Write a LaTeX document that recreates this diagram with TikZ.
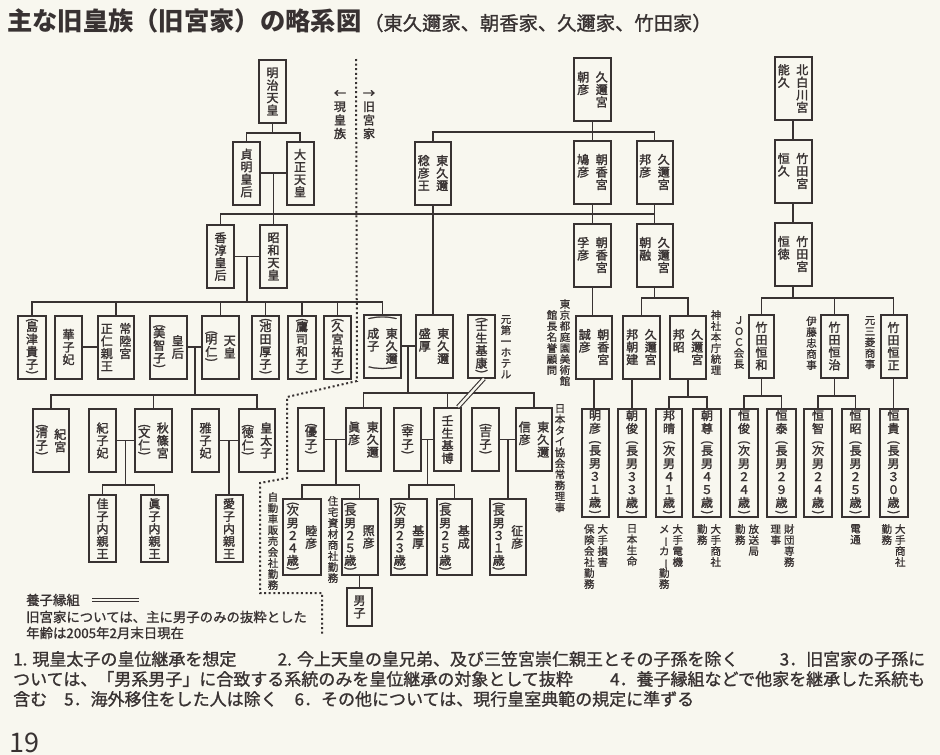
\documentclass[tikz,border=0pt]{standalone}
\usepackage{fontspec}
\usepackage{graphicx}
\setmainfont{Noto Sans CJK JP}
\newfontfamily\inkfam[FakeBold=2]{Noto Sans CJK JP}
\newfontfamily\notefam[FakeBold=1.2]{Noto Sans CJK JP}
\definecolor{paper}{RGB}{248,247,239}
\definecolor{ink}{RGB}{56,50,50}

% vertical text: one character per line
\newlength\tatepitch \setlength\tatepitch{12.5pt}
\newlength\tateparen \setlength\tateparen{7.5pt}
\newlength\tatewidth \setlength\tatewidth{13pt}
\newlength\tategap \setlength\tategap{5.5pt}
\makeatletter
\newcommand\PO{\rotatebox[origin=c]{-90}{(}}
\newcommand\PC{\rotatebox[origin=c]{-90}{)}}
\def\ts@po{\PO}
\def\ts@pc{\PC}
\newcommand\tatechar[1]{\hbox to\tatewidth{\hss#1\hss}}
\newcommand\tatestack[1]{\baselineskip=\tatepitch\lineskip=0pt\lineskiplimit=-100pt
  \@tfor\ts@c:=#1\do{%
    \ifx\ts@c\ts@po
      \tatechar{\PO}\baselineskip=\tateparen
    \else\ifx\ts@c\ts@pc
      \baselineskip=\tateparen\tatechar{\PC}\baselineskip=\tatepitch
    \else
      \tatechar{\ts@c}\baselineskip=\tatepitch
    \fi\fi}}
\makeatother
\newcommand\vt[1]{\vtop{\tatestack{#1}}}
\newcommand\vc[1]{$\vcenter{\tatestack{#1}}$}
\newcommand\vtt[2]{\vt{#1}\kern\tategap\vt{#2}}
\newcommand\vcc[2]{\vc{#1}\kern\tategap\vc{#2}}
\newcommand\tatebig[1]{\rotatebox[origin=c]{-90}{\scalebox{1}[2.3]{#1}}}
\newcommand\tatewrap[1]{\vbox{\offinterlineskip\hbox to 33pt{\hss\tatebig{(}\hss}\kern2pt
  \hbox to 33pt{\hss#1\hss}\kern2pt\hbox to 33pt{\hss\tatebig{)}\hss}}}
\newcommand\vbar{\rotatebox[origin=c]{-90}{ー}}

\newcommand\boxfont{\inkfam\fontsize{12}{12.5}\selectfont}
\newcommand\longfont{\inkfam\fontsize{12}{13}\selectfont\setlength\tatepitch{13pt}\setlength\tateparen{9pt}}
\newcommand\notefont{\notefam\fontsize{10.5}{11}\selectfont\setlength\tatepitch{11pt}\setlength\tatewidth{11pt}\setlength\tategap{2.5pt}}
\newcommand\titlefont{\fontsize{25.3}{27}\selectfont\bfseries}
\newcommand\subfont{\notefam\fontsize{19.3}{21}\selectfont}
\newcommand\legendfont{\notefam\fontsize{13.4}{14}\selectfont}
\newcommand\footfont{\notefam\fontsize{17}{18}\selectfont}
\newcommand\fngap{\hskip 1em plus 1fill\relax}

\tikzset{
  box/.style={draw=ink, line width=2pt, fill=paper, text=ink, inner sep=0pt, minimum width=#1, font=\boxfont},
  box/.default=27pt,
  sbox/.style={box, minimum height=63pt},
  dbox/.style={box=37pt, minimum height=63pt},
  longbox/.style={box, minimum height=108pt, font=\longfont},
  link/.style={draw=ink, line width=1.6pt},
  adopt/.style={draw=ink, line width=1.1pt, double=paper, double distance=2.4pt},
  famline/.style={draw=ink, line width=2pt, dash pattern=on 2pt off 2.6pt},
  note/.style={inner sep=0pt, text=ink, font=\notefont, anchor=north},
}

\begin{document}
\begin{tikzpicture}[x=1pt,y=-1pt]
  \fill[paper] (0,0) rectangle (940,755);
  \useasboundingbox (0,0) rectangle (940,755);

  % title
  \node[anchor=west, inner sep=0pt, text=ink, font=\titlefont] (title) at (7,21) {主な旧皇族（旧宮家）の略系図};
  \node[anchor=west, inner sep=0pt, text=ink, font=\subfont] (subtitle) at (364,23) {（東久邇家、朝香家、久邇家、竹田家）};

  % first row
  \node[sbox] (meiji) at (272.5,91.5) {\vt{明治天皇}};
  \node[dbox] (asahiko) at (592.5,89.5) {\vtt{朝彦}{久邇宮}};
  \node[dbox] (yoshihisa) at (793,88.5) {\vtt{能久}{北白川宮}};

  % second row
  \node[sbox] (teimei) at (246.5,173) {\vt{貞明皇后}};
  \node[sbox] (taisho) at (300,173) {\vt{大正天皇}};
  \node[dbox, minimum width=36pt] (naruhiko) at (433,173) {\vtt{稔彦王}{東久邇}};
  \node[dbox] (yasuhiko) at (592.5,172) {\vtt{鳩彦}{朝香宮}};
  \node[dbox, minimum width=36pt] (kuniyoshi) at (654.5,172) {\vtt{邦彦}{久邇宮}};
  \node[dbox] (tsunehisa) at (793,171) {\vtt{恒久}{竹田宮}};

  % third row
  \node[sbox] (kojun) at (220.5,256.5) {\vt{香淳皇后}};
  \node[sbox] (showa) at (273.5,256.5) {\vt{昭和天皇}};
  \node[dbox] (takahiko) at (592.5,255) {\vtt{孚彦}{朝香宮}};
  \node[dbox, minimum width=36pt] (asaakira) at (654.5,255) {\vtt{朝融}{久邇宮}};
  \node[dbox] (tsuneyoshi) at (793,254) {\vtt{恒徳}{竹田宮}};

  % fourth row
  \node[sbox, minimum width=28pt] (takako) at (32,347) {\vt{\PO 島津貴子\PC}};
  \node[sbox] (hanako) at (68.5,347) {\vt{華子妃}};
  \node[dbox, minimum width=36pt] (hitachi) at (116,347) {\vtt{正仁親王}{常陸宮}};
  \node[dbox] (michiko) at (168.5,347) {\vcc{\PO 美智子\PC}{皇后}};
  \node[dbox] (akihito) at (220.5,347) {\vcc{\PO 明仁\PC}{天皇}};
  \node[sbox] (atsuko) at (265.5,347) {\vt{\PO 池田厚子\PC}};
  \node[sbox, minimum width=28pt] (kazuko) at (302,347) {\vt{\PO 鷹司和子\PC}};
  \node[sbox] (hisako) at (337.5,347) {\vt{\PO 久宮祐子\PC}};
  \node[dbox] (shigeko) at (382.5,346) {\tatewrap{\vtt{成子}{東久邇}}};
  \node[dbox] (morihiro) at (434,346) {\vtt{盛厚}{東久邇}};
  \node[sbox] (motoyasu) at (481.5,346) {\vt{\PO 壬生基康\PC}};
  \node[dbox, minimum width=36pt] (tomohiko) at (594,347) {\vtt{誠彦}{朝香宮}};
  \node[dbox] (kunitake) at (641.5,347) {\vtt{邦朝建}{久邇宮}};
  \node[dbox, minimum width=36pt] (kuniaki) at (688,347) {\vtt{邦昭}{久邇宮}};
  \node[sbox, minimum width=25pt] (tsunekazu) at (761.5,346) {\vt{竹田恒和}};
  \node[sbox] (tsuneharu) at (834.5,346) {\vt{竹田恒治}};
  \node[sbox, minimum width=26pt] (tsunetada) at (893.5,346) {\vt{竹田恒正}};

  % fifth row
  \node[dbox, minimum width=36pt] (sayako) at (51,440.5) {\vcc{\PO 清子\PC}{紀宮}};
  \node[sbox] (kiko) at (102.5,440.5) {\vt{紀子妃}};
  \node[dbox] (akishino) at (153.5,440.5) {\vcc{\PO 文仁\PC}{秋篠宮}};
  \node[sbox] (masako) at (205.5,440.5) {\vt{雅子妃}};
  \node[dbox, minimum width=36pt] (kotaishi) at (257,440.5) {\vcc{\PO 徳仁\PC}{皇太子}};
  \node[sbox, minimum width=26pt] (yuko) at (311,439.5) {\vt{\PO 優子\PC}};
  \node[dbox, minimum width=35pt] (tomohiko2) at (363.5,439.5) {\vtt{眞彦}{東久邇}};
  \node[sbox] (sachiko) at (407.5,439.5) {\vt{\PO 幸子\PC}};
  \node[sbox] (motohiro) at (447.5,439.5) {\vt{壬生基博}};
  \node[sbox] (yoshiko) at (485.5,439.5) {\vt{\PO 吉子\PC}};
  \node[dbox, minimum width=36pt] (nobuhiko) at (534,439.5) {\vtt{信彦}{東久邇}};

  % sixth row
  \node[box, minimum height=67pt] (kako) at (102.5,528.5) {\vt{佳子内親王}};
  \node[box, minimum height=67pt] (mako) at (154.5,528.5) {\vt{眞子内親王}};
  \node[box, minimum height=67pt] (aiko) at (229,528.5) {\vt{愛子内親王}};
  \node[box=38pt, minimum height=76pt] (mutsuhiko) at (302,537) {\vcc{\PO 次男２４歳\PC}{睦彦}};
  \node[box=36pt, minimum height=76pt] (teruhiko) at (359.5,537) {\vcc{\PO 長男２５歳\PC}{照彦}};
  \node[box=36pt, minimum height=76pt] (motoatsu) at (409,537) {\vcc{\PO 次男２３歳\PC}{基厚}};
  \node[box=35pt, minimum height=76pt] (motonari) at (454.5,537) {\vcc{\PO 長男２５歳\PC}{基成}};
  \node[box=36pt, minimum height=76pt] (yukihiko) at (508,537) {\vcc{\PO 長男３１歳\PC}{征彦}};
  \node[box=25pt, minimum height=38pt] (danshi) at (359.5,607) {\vt{男子}};
  \node[longbox] (akihiko) at (595,463) {\vt{明彦\PO 長男３１歳\PC}};
  \node[longbox, minimum width=28pt] (asatoshi) at (632,463) {\vt{朝俊\PO 長男３３歳\PC}};
  \node[longbox, minimum width=26pt] (kuniharu) at (669,463) {\vt{邦晴\PO 次男４１歳\PC}};
  \node[longbox, minimum width=28pt] (asataka) at (707,463) {\vt{朝尊\PO 長男４５歳\PC}};
  \node[longbox, minimum width=28pt] (tsunetoshi) at (744,463) {\vt{恒俊\PO 次男２４歳\PC}};
  \node[longbox, minimum width=29pt] (tsuneyasu) at (781.5,463) {\vt{恒泰\PO 長男２９歳\PC}};
  \node[longbox, minimum width=28pt] (tsunetomo) at (818,463) {\vt{恒智\PO 次男２４歳\PC}};
  \node[longbox] (tsuneaki) at (855.5,463) {\vt{恒昭\PO 長男２５歳\PC}};
  \node[longbox, minimum width=28pt] (tsunetaka) at (893.5,463) {\vt{恒貴\PO 長男３０歳\PC}};

  % side notes
  \node[note, font={\boxfont\setlength\tatepitch{13.5pt}}] (genko) at (340,90) {\vt{←現皇族}};
  \node[note, font={\boxfont\setlength\tatepitch{13.5pt}}] (kyuke) at (369,90) {\vt{→旧宮家}};
  \node[note] (hotel) at (506,315) {\vt{元第一ホテル}};
  \node[note] (museum-a) at (565,299) {\vt{東京都庭園美術館}};
  \node[note] (museum-b) at (552,310) {\vt{館長名誉顧問}};
  \node[note] (jinja) at (716,310) {\vt{神社本庁統理}};
  \node[note] (joc) at (739,316) {\vt{ＪＯＣ会長}};
  \node[note] (itochu) at (811.5,316) {\vt{伊藤忠商事}};
  \node[note] (mitsubishi) at (870,316) {\vt{元三菱商事}};
  \node[note] (thai) at (560,404) {\vt{日本タイ協会常務理事}};
  \node[note] (car) at (273,492) {\vt{自動車販売会社勤務}};
  \node[note] (house) at (333,496) {\vt{住宅資材商社勤務}};
  \node[note] (akihiko-job) at (596,524) {\vtt{保険会社勤務}{大手損害}};
  \node[note] (asatoshi-job) at (632,524) {\vt{日本生命}};
  \node[note] (kuniharu-job) at (671,524) {\vtt{メ{\vbar}カ{\vbar}勤務}{大手電機}};
  \node[note] (asataka-job) at (709,524) {\vtt{勤務}{大手商社}};
  \node[note] (tsunetoshi-job) at (747,524) {\vtt{勤務}{放送局}};
  \node[note] (tsuneyasu-job) at (782.5,524) {\vtt{理事}{財団専務}};
  \node[note] (tsuneaki-job) at (855.5,524) {\vt{電通}};
  \node[note] (tsunetaka-job) at (893.5,524) {\vtt{勤務}{大手商社}};

  % dividing line between the two families
  \draw[famline] (356,59) -- (357,381) -- (287,397) -- (287,478) -- (260,483)
    -- (260,593) -- (322,593) -- (322,636);

  % Meiji and Taisho
  \coordinate (j-meiji) at (272.5,133);
  \draw[link] (meiji.south) -- (j-meiji);
  \draw[link] (teimei.north) |- (j-meiji) -| (taisho.north);
  \draw[link] (teimei) -- (taisho);
  \coordinate (m-taisho) at (273.5,173);
  \draw[link] (m-taisho) -- (showa.north);

  % Kuni line down to Kojun
  \coordinate (j-kuni) at (654.5,214);
  \draw[link] (kojun.north) |- (j-kuni);
  \draw[link] (kuniyoshi.south) -- (asaakira.north);

  % Asahiko
  \coordinate (j-asahiko) at (592.5,132);
  \draw[link] (asahiko.south) -- (yasuhiko.north);
  \draw[link] (naruhiko.north) |- (j-asahiko) -| (kuniyoshi.north);
  \draw[link] (naruhiko.south) -- (naruhiko.south |- morihiro.north);
  \draw[link] (yasuhiko.south) -- (takahiko.north);
  \draw[link] (takahiko.south) -- (takahiko.south |- tomohiko.north);
  \draw[link] (tomohiko.south) -- (tomohiko.south |- akihiko.north);

  % Takeda
  \draw[link] (yoshihisa) -- (tsunehisa);
  \draw[link] (tsunehisa) -- (tsuneyoshi);

  % Showa
  \draw[link] (kojun) -- (showa);
  \coordinate (m-showa) at (247,256.5);
  \coordinate (j-showa) at (247,302);
  \draw[link] (m-showa) -- (j-showa);
  \draw[link] (takako.north) |- (j-showa) -| (shigeko.north);
  \foreach \n in {hitachi,akihito,atsuko,kazuko,hisako}
    \draw[link] (\n.north) -- (\n.north |- j-showa);
  \draw[link] (hanako) -- (hitachi);

  % Akihito
  \draw[link] (michiko) -- (akihito);
  \coordinate (m-akihito) at (195,347);
  \coordinate (j-akihito) at (195,395);
  \draw[link] (m-akihito) -- (j-akihito);
  \draw[link] (sayako.north) |- (j-akihito) -| (kotaishi.north);
  \draw[link] (akishino.north) -- (akishino.north |- j-akihito);
  \draw[link] (kiko) -- (akishino);
  \coordinate (m-akishino) at (125.5,440.5);
  \coordinate (j-akishino) at (125.5,485);
  \draw[link] (m-akishino) -- (j-akishino);
  \draw[link] (kako.north) |- (j-akishino) -| (mako.north);
  \draw[link] (masako) -- (kotaishi);
  \coordinate (m-kotaishi) at (229,440.5);
  \draw[link] (m-kotaishi) -- (aiko.north);

  % Higashikuni
  \draw[link] (shigeko) -- (morihiro);
  \coordinate (m-morihiro) at (408,346);
  \coordinate (j-morihiro) at (408,393);
  \draw[link] (m-morihiro) -- (j-morihiro);
  \draw[link] (tomohiko2.north) |- (j-morihiro) -| (nobuhiko.north);
  \draw[link] (motohiro.north) -- (motohiro.north |- j-morihiro);
  \draw[adopt] ([xshift=2.5pt]motoyasu.south) -- ([xshift=-4pt]motohiro.north east);
  \draw[link] (yuko) -- (tomohiko2);
  \coordinate (m-tomohiko) at (336,439.5);
  \coordinate (j-tomohiko) at (336,485);
  \draw[link] (m-tomohiko) -- (j-tomohiko);
  \draw[link] (mutsuhiko.north) |- (j-tomohiko) -| (teruhiko.north);
  \draw[link] (teruhiko) -- (danshi);
  \draw[link] (sachiko) -- (motohiro);
  \coordinate (m-motohiro) at (427.5,439.5);
  \coordinate (j-motohiro) at (427.5,485);
  \draw[link] (m-motohiro) -- (j-motohiro);
  \draw[link] (motoatsu.north) |- (j-motohiro) -| (motonari.north);
  \draw[link] (yoshiko) -- (nobuhiko);
  \coordinate (m-nobuhiko) at (508,439.5);
  \draw[link] (m-nobuhiko) -- (yukihiko.north);

  % Kuni
  \coordinate (j-asaakira) at (654.5,298);
  \draw[link] (asaakira.south) -- (j-asaakira);
  \draw[link] (kunitake.north) |- (j-asaakira) -| (kuniaki.north);
  \draw[link] (asatoshi.north) -- (asatoshi.north |- kunitake.south);
  \coordinate (j-kuniaki) at (688,397);
  \draw[link] (kuniaki.south) -- (j-kuniaki);
  \draw[link] (kuniharu.north) |- (j-kuniaki) -| (asataka.north);

  % Takeda children
  \coordinate (j-tsuneyoshi) at (793,298);
  \draw[link] (tsuneyoshi.south) -- (j-tsuneyoshi);
  \draw[link] (tsunekazu.north) |- (j-tsuneyoshi) -| (tsunetada.north);
  \draw[link] (tsuneharu.north) -- (tsuneharu.north |- j-tsuneyoshi);
  \coordinate (j-tsunekazu) at (761.5,396);
  \draw[link] (tsunekazu.south) -- (j-tsunekazu);
  \draw[link] (tsunetoshi.north) |- (j-tsunekazu) -| (tsuneyasu.north);
  \coordinate (j-tsuneharu) at (834.5,396);
  \draw[link] (tsuneharu.south) -- (j-tsuneharu);
  \draw[link] (tsunetomo.north) |- (j-tsuneharu) -| (tsuneaki.north);
  \draw[link] (tsunetada) -- (tsunetaka);

  % legend
  \node[anchor=west, inner sep=0pt, text=ink, font=\legendfont] (legend) at (26,600) {養子縁組};
  \draw[adopt] ([xshift=12pt]legend.east) -- ++(47,0);
  \node[anchor=west, inner sep=0pt, text=ink, font=\legendfont] (legend2) at (26,617) {旧宮家については、主に男子のみの抜粋とした};
  \node[anchor=west, inner sep=0pt, text=ink, font=\legendfont] (legend3) at (26,633) {年齢は2005年2月末日現在};

  % footnotes
  \node[anchor=west, inner sep=0pt, text=ink, font=\footfont] (note1) at (13,659)
    {\makebox[912pt][s]{1. 現皇太子の皇位継承を想定\fngap 2. 今上天皇の皇兄弟、及び三笠宮崇仁親王とその子孫を除く\fngap 3．旧宮家の子孫に}};
  \node[anchor=west, inner sep=0pt, text=ink, font=\footfont] (note2) at (13,679)
    {\makebox[912pt][s]{ついては、「男系男子」に合致する系統のみを皇位継承の対象として抜粋\fngap 4．養子縁組などで他家を継承した系統も}};
  \node[anchor=west, inner sep=0pt, text=ink, font=\footfont] (note3) at (13,699)
    {含む\hspace{1em}5．海外移住をした人は除く\hspace{1em}6．その他については、現行皇室典範の規定に準ずる};
  \node[anchor=base west, inner sep=0pt, text=ink, font=\fontsize{27}{27}\selectfont] (page) at (9,752) {19};
\end{tikzpicture}
\end{document}
